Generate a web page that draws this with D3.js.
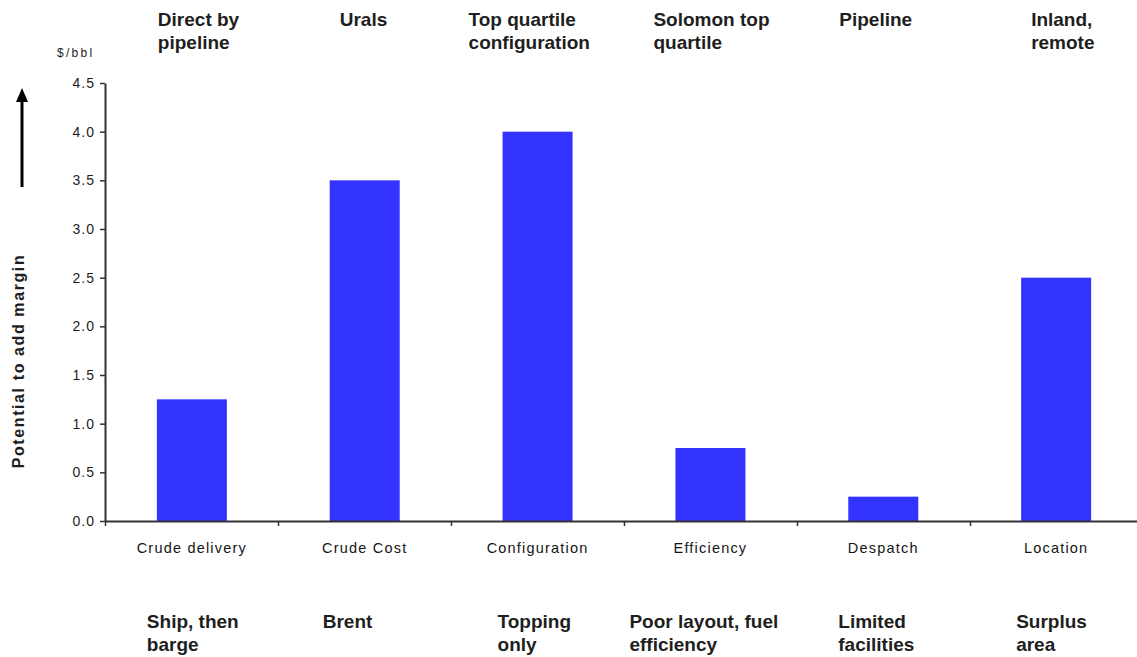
<!DOCTYPE html>
<html>
<head>
<meta charset="utf-8">
<script src="https://cdn.jsdelivr.net/npm/d3@7"></script>
<style>
  body { margin: 0; background: #fff; }
  text { font-family: "Liberation Sans", Arial, sans-serif; fill: #1e1e1e; }
  .domain { stroke: #333; stroke-width: 2px; }
  .tick line { stroke: #333; stroke-width: 1.5px; }
</style>
</head>
<body>
<div id="chart"></div>
<script>
// categories and values
var categories = ["Crude delivery", "Crude Cost", "Configuration", "Efficiency", "Despatch", "Location"];
var values = [1.25, 3.5, 4.0, 0.75, 0.25, 2.5];
var topLabels = [["Direct by", "pipeline"], ["Urals"], ["Top quartile", "configuration"],
                 ["Solomon top", "quartile"], ["Pipeline"], ["Inland,", "remote"]];
var bottomLabels = [["Ship, then", "barge"], ["Brent"], ["Topping", "only"],
                    ["Poor layout, fuel", "efficiency"], ["Limited", "facilities"], ["Surplus", "area"]];
var yTicks = [0, 0.5, 1.0, 1.5, 2.0, 2.5, 3.0, 3.5, 4.0, 4.5];

// label offsets from band centre (layout only)
var topDx = [-34, -25, -69, -57, -44, -25];
var bottomDx = [-45, -42, -40, -81, -45, -40];

function init() {
  var w = 1137, h = 657;
  var left = 105, right = 1143, top = 83, bottom = 521;

  var svg = d3.select("#chart").append("svg")
    .attr("width", w)
    .attr("height", h);

  var xScale = d3.scaleBand()
    .domain(categories)
    .range([left, right])
    .paddingInner(0.595)
    .paddingOuter(0.3);

  var xEdge = d3.scaleLinear()
    .domain([0, categories.length])
    .range([left, right]);

  var yScale = d3.scaleLinear()
    .domain([0, 4.5])
    .range([bottom, top]);

  // bars
  svg.selectAll("rect.bar")
    .data(values)
    .enter().append("rect")
    .attr("class", "bar")
    .attr("x", function(d, i) { return xScale(categories[i]); })
    .attr("width", xScale.bandwidth())
    .attr("y", function(d) { return yScale(d); })
    .attr("height", function(d) { return bottom - yScale(d); })
    .attr("fill", "#3333ff");

  // y axis
  var yAxis = d3.axisLeft(yScale)
    .tickValues(yTicks)
    .tickFormat(d3.format(".1f"))
    .tickSize(5)
    .tickSizeOuter(0);
  var gy = svg.append("g")
    .attr("transform", "translate(" + left + ",0)")
    .call(yAxis);
  gy.selectAll(".tick text")
    .attr("x", -10)
    .style("font-size", "14px")
    .style("letter-spacing", "1px")
    .style("fill", "#1e1e1e");

  // x axis: ticks on category boundaries
  var xAxis = d3.axisBottom(xEdge)
    .tickValues(d3.range(0, categories.length + 1))
    .tickFormat("")
    .tickSize(5)
    .tickSizeOuter(0);
  svg.append("g")
    .attr("transform", "translate(0," + bottom + ")")
    .call(xAxis);

  // category names
  svg.selectAll("text.cat")
    .data(categories)
    .enter().append("text")
    .attr("class", "cat")
    .attr("x", function(d) { return xScale(d) + xScale.bandwidth() / 2; })
    .attr("y", 553)
    .attr("text-anchor", "middle")
    .style("font-size", "14.5px")
    .style("letter-spacing", "1.2px")
    .style("fill", "#151515")
    .text(function(d) { return d; });

  // bold labels above and below
  function boldLabels(labels, dx, y0) {
    labels.forEach(function(lines, i) {
      var x0 = xScale(categories[i]) + xScale.bandwidth() / 2 + dx[i];
      var t = svg.append("text")
        .attr("x", x0)
        .attr("y", y0)
        .style("font-size", "19px")
        .style("font-weight", "bold");
      lines.forEach(function(s, j) {
        t.append("tspan")
          .attr("x", x0)
          .attr("dy", j === 0 ? 0 : 23)
          .text(s);
      });
    });
  }
  boldLabels(topLabels, topDx, 26);
  boldLabels(bottomLabels, bottomDx, 628);

  // unit
  svg.append("text")
    .attr("x", 57)
    .attr("y", 57)
    .style("font-size", "12px")
    .style("letter-spacing", "2.3px")
    .text("$/bbl");

  // y title
  svg.append("text")
    .attr("transform", "translate(24,361) rotate(-90)")
    .attr("text-anchor", "middle")
    .style("font-size", "16px")
    .style("font-weight", "bold")
    .style("letter-spacing", "1.6px")
    .text("Potential to add margin");

  // arrow
  svg.append("line")
    .attr("x1", 22).attr("x2", 22)
    .attr("y1", 187).attr("y2", 100)
    .attr("stroke", "#000")
    .attr("stroke-width", 3);
  svg.append("path")
    .attr("d", "M16,102 L22,88 L28,102 Z")
    .attr("fill", "#000");
}

window.onload = init;
</script>
</body>
</html>
